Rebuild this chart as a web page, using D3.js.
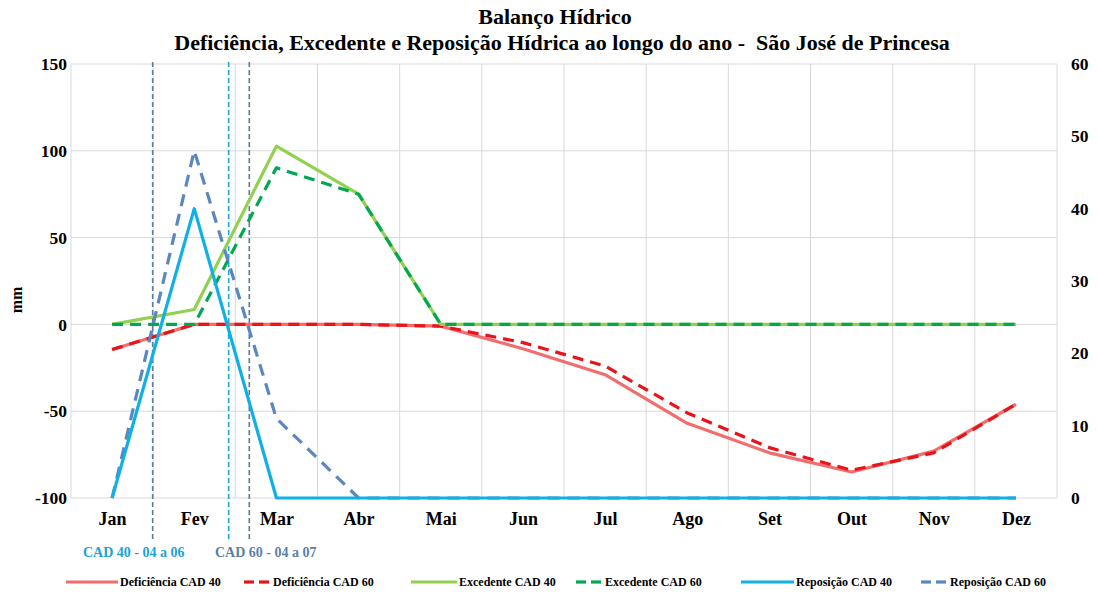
<!DOCTYPE html>
<html><head><meta charset="utf-8">
<script src="https://cdn.jsdelivr.net/npm/d3@7"></script>
<style>
body{margin:0;background:#fff;}
svg text{font-family:'Liberation Serif','Times New Roman',Tinos,'DejaVu Serif',serif !important;font-weight:bold;}
</style></head>
<body><svg id="c" width="1097" height="592"></svg>
<script>
const months = ["Jan","Fev","Mar","Abr","Mai","Jun","Jul","Ago","Set","Out","Nov","Dez"];
const deficienciaCad40 = [-14.5, 0, 0, 0, -1, -14, -29, -57, -74, -85, -73, -46];
const deficienciaCad60 = [-14.5, 0, 0, 0, -1, -10.5, -24, -51, -71, -84, -74, -46];
const excedenteCad40 = [0, 8.6, 102.7, 75, 0, 0, 0, 0, 0, 0, 0, 0];
const excedenteCad60 = [0, 0, 90.2, 75, 0, 0, 0, 0, 0, 0, 0, 0];
const reposicaoCad40 = [0, 40, 0, 0, 0, 0, 0, 0, 0, 0, 0, 0];
const reposicaoCad60 = [0, 48, 11, 0, 0, 0, 0, 0, 0, 0, 0, 0];
const leftTicks = [-100, -50, 0, 50, 100, 150];
const rightTicks = [0, 10, 20, 30, 40, 50, 60];
// marker positions in month units from Jan
const markerPositions = [0.494, 1.419, 1.67];
const markerLabels = ["CAD 40 - 04 a 06", "CAD 60 - 04 a 07"];

const svg = d3.select("#c");
const L = 71, R = 1057, T = 64, B = 498;
const x = d3.scalePoint().domain(months).range([L, R]).padding(0.5);
const yL = d3.scaleLinear().domain([-100, 150]).range([B, T]);
const yR = d3.scaleLinear().domain([0, 60]).range([B, T]);
const step = x.step();
const fmt = d => String(d);

// grid
const g = svg.append("g");
g.selectAll(".hg").data(leftTicks).join("line")
  .attr("x1", L).attr("x2", R).attr("y1", d => yL(d)).attr("y2", d => yL(d))
  .attr("stroke", "#d9d9d9").attr("stroke-width", 1);
const bounds = d3.range(months.length + 1).map(i => L + i * step);
g.selectAll(".vg").data(bounds).join("line")
  .attr("x1", d => d).attr("x2", d => d).attr("y1", T).attr("y2", B)
  .attr("stroke", "#d9d9d9").attr("stroke-width", 1);

// axes
const axL = svg.append("g").attr("transform", `translate(${L},0)`)
  .call(d3.axisLeft(yL).tickValues(leftTicks).tickFormat(fmt).tickSize(0).tickPadding(4));
axL.select(".domain").remove();
axL.selectAll("text").attr("font-size", 17.5).attr("fill", "#000");
const axR = svg.append("g").attr("transform", `translate(${R},0)`)
  .call(d3.axisRight(yR).tickValues(rightTicks).tickFormat(fmt).tickSize(0).tickPadding(14));
axR.select(".domain").remove();
axR.selectAll("text").attr("font-size", 17.5).attr("fill", "#000");
const axB = svg.append("g").attr("transform", `translate(0,${B})`)
  .call(d3.axisBottom(x).tickSize(0).tickPadding(14));
axB.select(".domain").remove();
axB.selectAll("text").attr("font-size", 18).attr("fill", "#000");

svg.append("text").attr("transform", "translate(22,300) rotate(-90)")
  .attr("text-anchor", "middle").attr("font-size", 16).text("mm");

// titles
svg.append("text").attr("x", 555).attr("y", 24).attr("text-anchor", "middle")
  .attr("font-size", 22).text("Balanço Hídrico");
svg.append("text").attr("x", 562).attr("y", 50).attr("text-anchor", "middle")
  .attr("font-size", 22).style("white-space", "pre")
  .text("Deficiência, Excedente e Reposição Hídrica ao longo do ano -  São José de Princesa");

// markers
const markerColors = ["#5a7a9e", "#1aa9dc", "#5a7a9e"];
svg.selectAll(".mk").data(markerPositions).join("line")
  .attr("x1", d => x(months[0]) + d * step).attr("x2", d => x(months[0]) + d * step)
  .attr("y1", 62).attr("y2", 540)
  .attr("stroke", (d, i) => markerColors[i]).attr("stroke-width", 1.6)
  .attr("stroke-dasharray", "5,3");
svg.append("text").attr("x", 83).attr("y", 557).attr("font-size", 14)
  .attr("fill", "#1aa3d6").text(markerLabels[0]);
svg.append("text").attr("x", 215).attr("y", 557).attr("font-size", 14)
  .attr("fill", "#5b7fa8").text(markerLabels[1]);

// series
const series = [
  {name: "Deficiência CAD 40", values: deficienciaCad40, y: yL, color: "#f26d6d", dash: null},
  {name: "Deficiência CAD 60", values: deficienciaCad60, y: yL, color: "#e8141a", dash: "11,7"},
  {name: "Excedente CAD 40", values: excedenteCad40, y: yL, color: "#92d050", dash: null},
  {name: "Excedente CAD 60", values: excedenteCad60, y: yL, color: "#00a84f", dash: "11,7"},
  {name: "Reposição CAD 40", values: reposicaoCad40, y: yR, color: "#0fb0e6", dash: null},
  {name: "Reposição CAD 60", values: reposicaoCad60, y: yR, color: "#5a87bf", dash: "12,8"}
];
const drawOrder = [0, 1, 2, 3, 5, 4];
drawOrder.forEach(i => {
  const s = series[i];
  const line = d3.line().x((d, j) => x(months[j])).y(d => s.y(d));
  svg.append("path").datum(s.values).attr("d", line)
    .attr("fill", "none").attr("stroke", s.color).attr("stroke-width", 3.2)
    .attr("stroke-dasharray", s.dash).attr("stroke-linejoin", "round");
});

// legend
const legendX = [66, 244, 411, 576, 741, 921];
const legendTextX = [120, 273, 459, 605, 796, 950];
const ly = 582;
series.forEach((s, i) => {
  const lg = svg.append("g");
  const tx = legendTextX[i];
  if (s.dash) {
    lg.append("line").attr("x1", tx - 29).attr("x2", tx - 19).attr("y1", ly).attr("y2", ly)
      .attr("stroke", s.color).attr("stroke-width", 3.2);
    lg.append("line").attr("x1", tx - 14).attr("x2", tx - 4).attr("y1", ly).attr("y2", ly)
      .attr("stroke", s.color).attr("stroke-width", 3.2);
  } else {
    lg.append("line").attr("x1", legendX[i]).attr("x2", tx - 2).attr("y1", ly).attr("y2", ly)
      .attr("stroke", s.color).attr("stroke-width", 3.2);
  }
  lg.append("text").attr("x", tx).attr("y", ly + 4).attr("font-size", 12).text(s.name);
});
</script></body></html>
